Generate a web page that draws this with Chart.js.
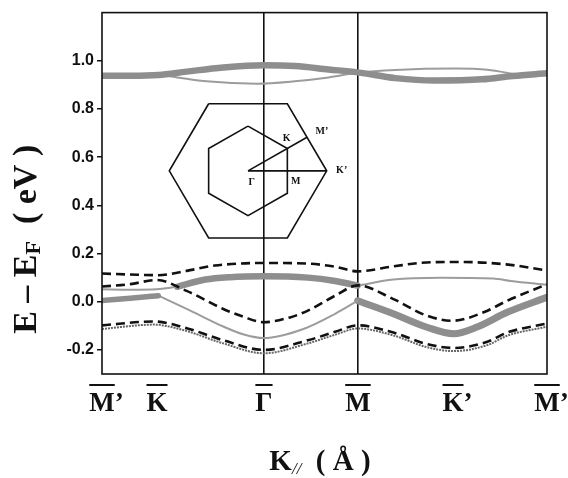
<!DOCTYPE html>
<html>
<head>
<meta charset="UTF-8">
<title>Band structure</title>
<script src="https://cdn.jsdelivr.net/npm/chart.js"></script>
<style>
  body { margin: 0; background: #fff; }
</style>
</head>
<body>
<canvas id="bands" width="568" height="478"></canvas>
<script>
// high symmetry points along the path (Γ-M = 1)
const kTicks = [0, 0.585, 1.723, 2.723, 3.734, 4.734]
const kLabels = ['M', 'K', 'Γ', 'M', 'K', 'M']
const kPrimes = ['’', '', '', '', '’', '’']
const vLines = [1.723, 2.723]
const yTicks = [-0.2, 0, 0.2, 0.4, 0.6, 0.8, 1.0]

// bands, [k, E - EF in eV]
const dashTop = [[0,0.117],[0.3,0.113],[0.6,0.110],[0.9,0.128],[1.2,0.150],[1.72,0.161],[2.2,0.158],[2.48,0.145],[2.72,0.126],[3.1,0.147],[3.45,0.163],[3.8,0.165],[4.3,0.155],[4.73,0.130]]
const dashMid = [[0,0.063],[0.3,0.073],[0.58,0.090],[0.9,0.045],[1.29,-0.030],[1.5,-0.062],[1.72,-0.085],[2.0,-0.065],[2.19,-0.037],[2.48,0.025],[2.72,0.068],[3.1,0.011],[3.45,-0.057],[3.73,-0.079],[4.06,-0.044],[4.31,0.004],[4.73,0.072]]
const dashLow = [[0,-0.098],[0.55,-0.082],[0.86,-0.105],[1.29,-0.160],[1.72,-0.200],[2.19,-0.160],[2.48,-0.125],[2.72,-0.098],[3.1,-0.128],[3.45,-0.175],[3.74,-0.192],[4.1,-0.166],[4.31,-0.128],[4.73,-0.091]]
const dotLow = [[0,-0.113],[0.55,-0.095],[0.86,-0.117],[1.29,-0.173],[1.72,-0.214],[2.19,-0.173],[2.48,-0.137],[2.72,-0.111],[3.1,-0.140],[3.45,-0.188],[3.74,-0.205],[4.1,-0.180],[4.31,-0.141],[4.73,-0.104]]

const grayA1 = [[0,0.052],[0.3,0.050],[0.58,0.052],[0.8,0.062]]
const grayA2 = [[0.8,0.062],[1.1,0.092],[1.36,0.102],[1.72,0.106],[2.19,0.100],[2.48,0.086],[2.72,0.067]]
const grayA3 = [[2.72,0.067],[3.1,0.092],[3.6,0.099],[4.16,0.096],[4.35,0.086],[4.73,0.070]]
const grayB1 = [[0,0.005],[0.3,0.014],[0.6,0.025]]
const grayB2 = [[0.6,0.025],[0.94,-0.037],[1.29,-0.103],[1.5,-0.135],[1.72,-0.151],[2.15,-0.112],[2.48,-0.050],[2.72,0.004]]
const grayB3 = [[2.72,0.004],[3.1,-0.050],[3.45,-0.105],[3.74,-0.133],[3.99,-0.105],[4.31,-0.044],[4.73,0.018]]

const upThick = [[0,0.938],[0.3,0.938],[0.6,0.941],[0.9,0.955],[1.29,0.972],[1.72,0.981],[2.05,0.978],[2.41,0.964],[2.72,0.952],[3.12,0.928],[3.54,0.918],[4.04,0.923],[4.37,0.937],[4.73,0.948]]
const upThin = [[0.65,0.940],[1.11,0.915],[1.65,0.905],[2.05,0.915],[2.41,0.931],[2.72,0.950],[3.12,0.962],[3.76,0.968],[4.1,0.963],[4.4,0.944]]

// inset: brillouin zones (units of Γ-K')
const hexOuter = [[-0.5,0.866],[0.5,0.866],[1,0],[0.5,-0.866],[-0.5,-0.866],[-1,0],[-0.5,0.866]]
const hexInner = [[0,0.577],[0.5,0.289],[0.5,-0.289],[0,-0.577],[-0.5,-0.289],[-0.5,0.289],[0,0.577]]
const pathGK = [[0,0],[1,0]]
const pathGM = [[0,0],[0.75,0.433]]
const insetLabels = ['K', 'M’', 'K’', 'Γ', 'M']
const insetLabelPos = [[0.49,0.415],[0.94,0.51],[1.19,0.005],[0.047,-0.147],[0.605,-0.14]]

const pts = a => a.map(p => ({ x: p[0], y: p[1] }))

const band = (data, color, width, dash) => ({
    data: pts(data),
    borderColor: color,
    borderWidth: width,
    borderDash: dash || [],
    borderCapStyle: dash ? 'butt' : 'round',
    pointRadius: 0,
    fill: false,
    cubicInterpolationMode: 'monotone'
})

const inset = data => ({
    data: pts(data),
    xAxisID: 'ix',
    yAxisID: 'iy',
    borderColor: '#111',
    borderWidth: 1.6,
    pointRadius: 0,
    fill: false,
    tension: 0
})

const dash = [9, 5]
const gray = '#8e8e8e'
const grayLight = '#9c9c9c'

const serif = '"Liberation Serif", "Times New Roman", serif'

const decor = {
    id: 'decor',
    afterDraw(chart) {
        const { ctx, chartArea: a, scales } = chart
        ctx.save()
        ctx.strokeStyle = '#111'
        ctx.lineWidth = 1.6
        ctx.strokeRect(a.left, a.top, a.right - a.left, a.bottom - a.top)

        // k point labels with overbars
        ctx.fillStyle = '#111'
        ctx.font = 'bold 27px ' + serif
        ctx.textAlign = 'left'
        ctx.textBaseline = 'alphabetic'
        kTicks.forEach((k, i) => {
            const px = scales.x.getPixelForValue(k)
            const w = ctx.measureText(kLabels[i]).width
            ctx.fillText(kLabels[i], px - w / 2, a.bottom + 37)
            if (kPrimes[i]) ctx.fillText(kPrimes[i], px + w / 2, a.bottom + 37)
            ctx.lineWidth = 2
            ctx.beginPath()
            ctx.moveTo(px - w / 2, a.bottom + 11)
            ctx.lineTo(px + w / 2, a.bottom + 11)
            ctx.stroke()
        })

        // y title  E - E_F (eV)
        const big = 'bold 34px ' + serif
        const sub = 'bold 22px ' + serif
        const yParts = [['E – E', big, 0], ['F', sub, 4], ['  ( eV )', big, 0]]
        ctx.save()
        ctx.translate(36, (a.top + a.bottom) / 2 + 46)
        ctx.rotate(-Math.PI / 2)
        let tot = 0
        yParts.forEach(p => { ctx.font = p[1]; tot += ctx.measureText(p[0]).width })
        let x0 = -tot / 2
        yParts.forEach(p => {
            ctx.font = p[1]
            ctx.fillText(p[0], x0, p[2])
            x0 += ctx.measureText(p[0]).width
        })
        ctx.restore()

        // x title  K// (Å)
        const xParts = [['K', 'bold 29px ' + serif, 0], ['//', 'italic 17px ' + serif, 4], ['  ( Å )', 'bold 29px ' + serif, 0]]
        tot = 0
        xParts.forEach(p => { ctx.font = p[1]; tot += ctx.measureText(p[0]).width })
        x0 = 320 - tot / 2
        xParts.forEach(p => {
            ctx.font = p[1]
            ctx.fillText(p[0], x0, a.bottom + 96 + p[2])
            x0 += ctx.measureText(p[0]).width
        })

        // inset labels
        ctx.font = 'bold 10px ' + serif
        ctx.textAlign = 'center'
        ctx.textBaseline = 'middle'
        insetLabels.forEach((t, i) => {
            ctx.fillText(t, scales.ix.getPixelForValue(insetLabelPos[i][0]), scales.iy.getPixelForValue(insetLabelPos[i][1]))
        })
        ctx.restore()
    }
}

new Chart(document.getElementById('bands'), {
    type: 'line',
    data: {
        datasets: [
            band(dashTop, '#111', 2.6, dash),
            band(dashMid, '#111', 2.6, dash),
            band(dashLow, '#111', 2.6, dash),
            band(dotLow, '#666', 2, [2, 1]),
            band(grayA1, grayLight, 2),
            band(grayA2, gray, 6.5),
            band(grayA3, grayLight, 2),
            band(grayB1, gray, 5.5),
            band(grayB2, grayLight, 2),
            band(grayB3, gray, 7),
            band(upThick, gray, 6.5),
            band(upThin, grayLight, 2),
            inset(hexOuter),
            inset(hexInner),
            inset(pathGK),
            inset(pathGM)
        ]
    },
    options: {
        responsive: false,
        animation: false,
        devicePixelRatio: 1,
        layout: { padding: { left: 0, right: 21, top: 7, bottom: 0 } },
        plugins: { legend: { display: false }, tooltip: { enabled: false } },
        scales: {
            x: {
                type: 'linear',
                min: 0,
                max: 4.734,
                afterBuildTicks: s => { s.ticks = kTicks.map(v => ({ value: v })) },
                ticks: { display: false },
                grid: {
                    color: c => vLines.includes(c.tick && c.tick.value) ? '#111' : 'rgba(0,0,0,0)',
                    lineWidth: 1.6,
                    drawTicks: false
                },
                border: { display: false },
                afterFit: s => { s.height = 104 }
            },
            y: {
                min: -0.3,
                max: 1.2,
                afterBuildTicks: s => { s.ticks = yTicks.map(v => ({ value: v })) },
                ticks: {
                    callback: v => v.toFixed(1),
                    font: { family: '"Liberation Sans", Arial, sans-serif', size: 16, weight: 'bold' },
                    color: '#111',
                    padding: 3
                },
                grid: { drawOnChartArea: false, color: '#111', lineWidth: 1.5, tickLength: 5 },
                border: { display: false },
                afterFit: s => { s.width = 102 }
            },
            ix: { type: 'linear', display: false, min: -1.855, max: 3.799 },
            iy: { type: 'linear', display: false, position: 'left', min: -2.621, max: 2.042 }
        }
    },
    plugins: [decor]
})
</script>
</body>
</html>
